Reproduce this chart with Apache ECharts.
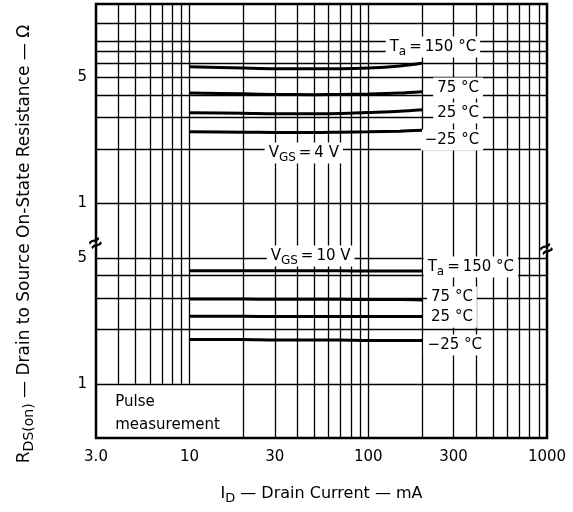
<!DOCTYPE html>
<html><head><meta charset="utf-8">
<script src="https://cdn.jsdelivr.net/npm/echarts@6/dist/echarts.min.js"></script>
<style>html,body{margin:0;padding:0;background:#fff}#c{width:573px;height:512px}</style>
</head><body><div id="c"></div>
<script>
// ---- data ----
// drain current (mA)
const current = [10, 20, 30, 50, 70, 100, 150, 200];
// VGS = 4 V (upper panel, values as labelled on the upper scale, ohm)
const r4_150 = [5.75, 5.65, 5.6, 5.6, 5.6, 5.65, 5.8, 6.0];
const r4_75  = [4.1, 4.06, 4.03, 4.02, 4.03, 4.05, 4.1, 4.17];
const r4_25  = [3.19, 3.17, 3.15, 3.15, 3.16, 3.2, 3.25, 3.31];
const r4_m25 = [2.5, 2.49, 2.48, 2.48, 2.49, 2.5, 2.52, 2.55];
// VGS = 10 V (lower panel, ohm)
const r10_150 = [4.24, 4.24, 4.24, 4.23, 4.23, 4.22, 4.22, 4.22];
const r10_75  = [2.95, 2.95, 2.94, 2.94, 2.94, 2.93, 2.93, 2.92];
const r10_25  = [2.37, 2.37, 2.36, 2.36, 2.36, 2.36, 2.36, 2.36];
const r10_m25 = [1.76, 1.76, 1.75, 1.75, 1.75, 1.74, 1.74, 1.74];
// tick labels
const xTickValues = [3, 10, 30, 100, 300, 1000];
const xTickLabels = ['3.0', '10', '30', '100', '300', '1000'];
const yTickValues = [1, 5, 10, 50];          // axis units (upper panel = x10)
const yTickLabels = ['1', '5', '1', '5'];
// grid lines
const xGridFull = [20, 30, 40, 50, 60, 70, 80, 90, 100, 200, 300, 400, 500, 600, 700, 800, 900];
const xGridShort = [4, 5, 6, 7, 8, 9, 10];   // stop at the "Pulse measurement" box
const yGridLower = [1, 2, 3, 4, 5, 10];
const yGridUpper = [2, 3, 4, 5, 6, 7, 8, 10];
// axis break: upper panel is shifted one decade
const UPPER = 10;
const X_MIN = 3, X_MAX = 1000, Y_MIN = 0.5, Y_MAX = 128;

// ---- build ----
const FONT = 'DejaVu Sans';
function mkRich(fs) {
  return {
    t: {fontSize: fs, fontFamily: FONT, color: '#000', lineHeight: fs + 6, verticalAlign: 'middle'},
    s: {fontSize: fs - 3, fontFamily: FONT, color: '#000', verticalAlign: 'bottom', lineHeight: fs}
  };
}
const rich = mkRich(15);
function pairs(ys, k) { return current.map((x, i) => [x, ys[i] * k]); }
function curve(name, ys, k) {
  return {name, type: 'line', data: pairs(ys, k), smooth: 0.3, showSymbol: false, silent: true,
    lineStyle: {color: '#000', width: 3}, z: 5};
}
const gridLines = [];
xGridFull.forEach(x => gridLines.push({xAxis: x}));
xGridShort.forEach(x => gridLines.push([{coord: [x, 1]}, {coord: [x, Y_MAX]}]));
yGridLower.forEach(y => gridLines.push({yAxis: y}));
yGridUpper.forEach(y => gridLines.push({yAxis: y * UPPER}));

const EQ = '\u2009=\u2009';
const annotations = [
  {text: '{t|T}{s|a}{t|' + EQ + '150 °C}', at: [230, 7.4 * UPPER]},
  {text: '{t|75 °C}', at: [318, 4.38 * UPPER]},
  {text: '{t|25 °C}', at: [318, 3.18 * UPPER]},
  {text: '{t|−25 °C}', at: [294, 2.25 * UPPER]},
  {text: '{t|V}{s|GS}{t|' + EQ + '4 V}', at: [43.6, 1.91 * UPPER]},
  {text: '{t|V}{s|GS}{t|' + EQ + '10 V}', at: [47.6, 5.12]},
  {text: '{t|T}{s|a}{t|' + EQ + '150 °C}', at: [375, 4.45]},
  {text: '{t|75 °C}', at: [294, 3.03]},
  {text: '{t|25 °C}', at: [294, 2.34]},
  {text: '{t|−25 °C}', at: [305, 1.64]}
];

const markText = {
  symbol: 'rect', symbolSize: 1, silent: true, itemStyle: {color: '#fff', opacity: 1},
  data: annotations.map(a => ({coord: a.at, label: {show: true, position: 'inside',
    formatter: a.text, rich, color: '#000', opacity: 1, textBorderWidth: 0,
    backgroundColor: '#fff', padding: [0, 4]}})).concat([
    {coord: [3.82, 0.68], label: {show: true, position: 'right', distance: 0, align: 'left',
      formatter: 'Pulse\nmeasurement', fontSize: 15, fontFamily: FONT, color: '#000',
      opacity: 1, textBorderWidth: 0, lineHeight: 23}},
    {coord: [3, 5.97], label: {show: true, position: 'inside', formatter: '≈', fontSize: 22,
      fontWeight: 'bold', color: '#000', opacity: 1, textBorderWidth: 0, rotate: 30}},
    {coord: [1000, 5.52], label: {show: true, position: 'inside', formatter: '≈', fontSize: 22,
      fontWeight: 'bold', color: '#000', opacity: 1, textBorderWidth: 0, rotate: 30}}
  ])
};

const chart = echarts.init(document.getElementById('c'));
chart.setOption({
  animation: false,
  backgroundColor: '#fff',
  grid: {left: 96, right: 26, top: 4, bottom: 74, show: true, borderColor: '#000', borderWidth: 2.5},
  xAxis: {
    type: 'log', logBase: 10, min: X_MIN, max: X_MAX,
    splitLine: {show: false}, axisLine: {show: false}, axisTick: {show: false},
    axisLabel: {customValues: xTickValues, margin: 12, fontSize: 15, fontFamily: FONT, color: '#000',
      formatter: v => xTickLabels[xTickValues.indexOf(Math.round(v))] || ''},
    name: '{t|I}{s|D}{t| — Drain Current — mA}',
    nameLocation: 'middle', nameGap: 45, nameTextStyle: {rich: mkRich(16)}
  },
  yAxis: {
    type: 'log', logBase: 10, min: Y_MIN, max: Y_MAX,
    splitLine: {show: false}, axisLine: {show: false}, axisTick: {show: false},
    axisLabel: {customValues: yTickValues, margin: 9, fontSize: 15, fontFamily: FONT, color: '#000',
      formatter: v => yTickLabels[yTickValues.indexOf(Math.round(v))] || ''},
    name: '{t|R}{s|DS(on)}{t| — Drain to Source On-State Resistance — Ω}',
    nameLocation: 'middle', nameRotate: 90, nameGap: 60,
    nameTextStyle: {rich: mkRich(17), padding: [0, 46, 0, 0]}
  },
  series: [
    {type: 'line', data: [], silent: true, z: 1,
      markLine: {silent: true, symbol: ['none', 'none'], label: {show: false},
        lineStyle: {color: '#000', width: 1.3, type: 'solid'}, emphasis: {disabled: true}, data: gridLines}},
    curve('VGS4 150', r4_150, UPPER), curve('VGS4 75', r4_75, UPPER),
    curve('VGS4 25', r4_25, UPPER), curve('VGS4 -25', r4_m25, UPPER),
    curve('VGS10 150', r10_150, 1), curve('VGS10 75', r10_75, 1),
    curve('VGS10 25', r10_25, 1), curve('VGS10 -25', r10_m25, 1),
    {type: 'line', data: [], silent: true, z: 10, markPoint: markText}
  ]
});
</script></body></html>
